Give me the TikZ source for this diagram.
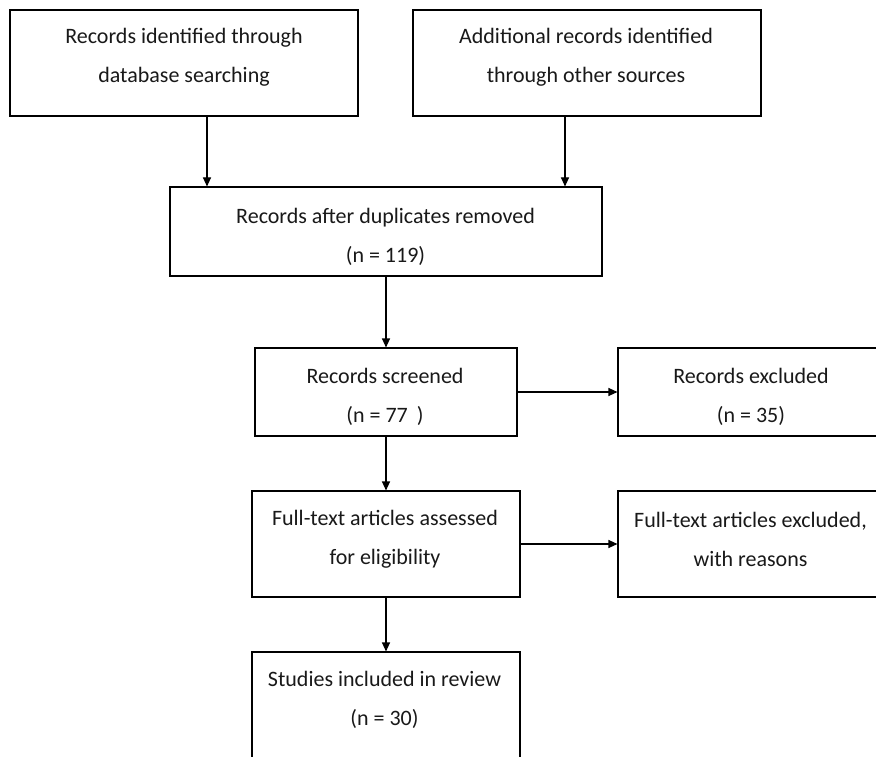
\documentclass[tikz,border=0pt]{standalone}
\usepackage{fontspec}
\setmainfont{Carlito}
\usetikzlibrary{arrows.meta}
\tikzset{
  box/.style={draw=black, line width=1.1pt, rectangle, inner sep=0pt, fill=none},
  txt/.style={align=center, inner sep=0pt, font=\fontsize{22}{39}\selectfont, text=black!90},
  arr/.style={draw=black, line width=1.1pt, -{Triangle[length=9pt,width=8pt]}}
}
\begin{document}
\begin{tikzpicture}[x=1pt,y=-1pt]
\useasboundingbox (0,0) rectangle (876,757);
\fill[white] (0,0) rectangle (876,757);
\clip (0,0) rectangle (876,757);
% boxes
\node[box, minimum width=348pt, minimum height=106pt] (b1) at (184,63) {};
\node[box, minimum width=348pt, minimum height=106pt] (b2) at (587,63) {};
\node[box, minimum width=432pt, minimum height=89pt] (b3) at (386,231.5) {};
\node[box, minimum width=262pt, minimum height=88pt] (b4) at (386,392) {};
\node[box, minimum width=264pt, minimum height=88pt] (b5) at (750,392) {};
\node[box, minimum width=268pt, minimum height=106pt] (b6) at (386,544) {};
\node[box, minimum width=264pt, minimum height=106pt] (b7) at (750,544) {};
\node[box, minimum width=268pt, minimum height=140pt] (b8) at (386,722) {};
% texts
\node[txt] (t1) at (184,57) {Records identified through\\database searching};
\node[txt] (t2) at (586,57) {Additional records identified\\through other sources};
\node[txt] (t3) at (385.5,236.5) {Records after duplicates removed\\(n = 119)};
\node[txt] (t4) at (385,397) {Records screened\\(n = 77\hspace{9pt})};
\node[txt] (t5) at (751,396.5) {Records excluded\\(n = 35)};
\node[txt] (t6) at (385,539) {Full-text articles assessed\\for eligibility};
\node[txt] (t7) at (750.5,539) {Full-text articles excluded,\\with reasons};
\node[txt] (t8) at (384.5,699.5) {Studies included in review\\(n = 30)};
% connectors
\draw[arr] ([xshift=23pt]b1.south) -- ([xshift=23pt]b1.south |- b3.north);
\draw[arr] ([xshift=-22pt]b2.south) -- ([xshift=-22pt]b2.south |- b3.north);
\draw[arr] (b3.south) -- (b3.south |- b4.north);
\draw[arr] (b4.east) -- (b4.east -| b5.west);
\draw[arr] (b4.south) -- (b4.south |- b6.north);
\draw[arr] (b6.east) -- (b6.east -| b7.west);
\draw[arr] (b6.south) -- (b6.south |- b8.north);
\end{tikzpicture}
\end{document}
